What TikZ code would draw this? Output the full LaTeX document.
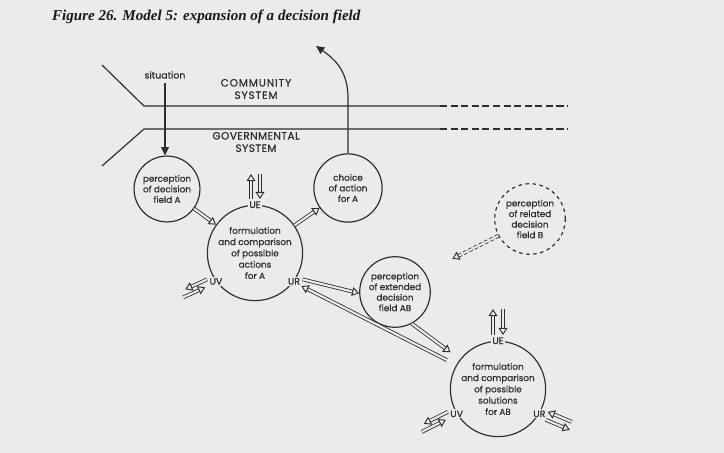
\documentclass[tikz,border=0pt]{standalone}
\usepackage{fontspec}
\setmainfont{Liberation Serif}
\newfontfamily\diafont[FakeBold=0.6]{Poppins}
\usepackage{tikz}
\usetikzlibrary{arrows.meta,positioning,calc}
\definecolor{PageGrey}{HTML}{EBEBEB}
\definecolor{InkGrey}{HTML}{2E2E2E}

\begin{document}
\begin{tikzpicture}[
    x=0.85pt, y=-0.85pt,
    ln/.style={draw=InkGrey, line width=1pt},
    field/.style={circle, draw=InkGrey, line width=1pt, align=center, inner sep=0pt, font=\diafont\fontsize{7.5}{9}\selectfont, text=InkGrey},
    bigfield/.style={field, minimum size=81pt, font=\diafont\fontsize{7.5}{9.6}\selectfont},
    tag/.style={fill=PageGrey, inner sep=1pt, font=\diafont\fontsize{8}{9}\selectfont, text=InkGrey},
    sys/.style={align=center, font=\diafont\fontsize{9}{10.5}\selectfont, text=InkGrey},
    hol/.style={draw=InkGrey, double=PageGrey, double distance=1.8pt, line width=0.7pt},
    >={Triangle[open, length=6pt, width=7.5pt, fill=PageGrey, line width=0.8pt]}
]
    \useasboundingbox (0,0) rectangle (724,453);
    \fill[PageGrey] (0,0) rectangle (724,453);

    \node[anchor=west, font=\bfseries\itshape\fontsize{12.8}{14}\selectfont, text=black!90] (title) at (48,17) {Figure 26. Model 5: expansion of a decision field};

    % community / government boundary
    \draw[ln] (102,65) -- (144,106) -- (440,106);
    \draw[ln, dash pattern=on 6pt off 3pt] (440,106) -- (568,106);
    \draw[ln] (102,166) -- (144,129) -- (440,129);
    \draw[ln, dash pattern=on 6pt off 3pt] (440,129) -- (568,129);
    \node[sys] (comm) at (256,89) {\addfontfeature{LetterSpace=8}COMMUNITY\\\addfontfeature{LetterSpace=8}SYSTEM};
    \node[sys] (govt) at (256,142) {\addfontfeature{LetterSpace=4}GOVERNMENTAL\\\addfontfeature{LetterSpace=4}SYSTEM};
    \node[sys, font=\diafont\fontsize{8}{9}\selectfont] (sit) at (165,75) {situation};

    \node[field, minimum size=56pt] (pA) at (167,189) {perception\\of decision\\field A};
    \node[field, minimum size=58pt] (cho) at (348,188) {choice\\of action\\for A};
    \node[bigfield] (cA) at (255,253) {formulation\\and comparison\\of possible\\actions\\for A};
    \node[field, minimum size=60pt] (pAB) at (395,292) {perception\\of extended\\decision\\field AB};
    \node[field, minimum size=60pt, dashed] (pB) at (530,219) {perception\\of related\\decision\\field B};
    \node[bigfield] (cAB) at (498,389) {formulation\\and comparison\\of possible\\solutions\\for AB};

    \node[tag] (ueA) at (cA.90) {UE};
    \node[tag] (uvA) at (cA.216) {UV};
    \node[tag] (urA) at (cA.-36) {UR};
    \node[tag] (ueAB) at (cAB.90) {UE};
    \node[tag] (uvAB) at (cAB.211) {UV};
    \node[tag] (urAB) at (cAB.-31) {UR};

    \coordinate (exit) at (316,46);
    \draw[ln, -{Triangle[length=7pt, width=6.5pt]}] (sit.south) -- (sit.south |- pA.north);
    \draw[ln, -{Triangle[length=7pt, width=6.5pt]}] (cho.north) -- ++(0,-55) .. controls (348,72) and (336,60) .. (exit);

    \draw[hol, ->] (pA.-36) -- (cA.144);
    \draw[hol, ->] (cA.35) -- (cho.215);
    \draw[hol, ->] ([shift={(-4,-1)}]ueA.north) -- ++(0,-25);
    \draw[hol, <-] ([shift={(5,-1)}]ueA.north) -- ++(0,-25);
    \draw[hol, ->] ([shift={(-1,-2)}]uvA.west) -- ++(-22,10);
    \draw[hol, <-] ([shift={(-3,6)}]uvA.west) -- ++(-22,10);

    \draw[hol, ->] ([shift={(1,-2)}]urA.east) -- (pAB.182);
    \draw[hol, ->, shorten <=9pt] (cAB.150) -- (urA.south east);
    \draw[hol, ->, shorten >=10pt] (pAB.-62) -- (cAB.142);
    \draw[hol, ->, dash pattern=on 3pt off 2pt] (pB.208) -- ++(-46,23);

    \draw[hol, ->] ([shift={(-5,-1)}]ueAB.north) -- ++(0,-26);
    \draw[hol, <-] ([shift={(5,-1)}]ueAB.north) -- ++(0,-26);
    \draw[hol, ->] ([shift={(-1,-2)}]uvAB.west) -- ++(-24,12);
    \draw[hol, <-] ([shift={(-3,6)}]uvAB.west) -- ++(-24,12);
    \draw[hol, <-] ([shift={(1,-2)}]urAB.east) -- ++(24,10);
    \draw[hol, ->] ([shift={(-1,6)}]urAB.east) -- ++(24,10);
\end{tikzpicture}
\end{document}
